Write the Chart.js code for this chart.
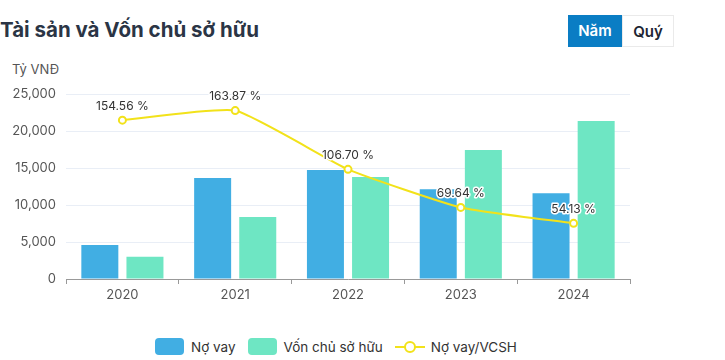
<!DOCTYPE html>
<html>
<head>
<meta charset="utf-8">
<script src="https://cdn.jsdelivr.net/npm/chart.js@4"></script>
<style>
  body { margin: 0; width: 725px; height: 360px; overflow: hidden; background: #fff; font-family: Inter, "Noto Sans", sans-serif; }
  #title { position: absolute; left: 0; top: 17px; font-size: 20.5px; font-weight: 700; color: #2b3545; }
  #unit { position: absolute; left: 12px; top: 61px; font-size: 13px; color: #555; }
  .btn { position: absolute; top: 15px; height: 32px; line-height: 32px; text-align: center; font-size: 15px; font-weight: 600; box-sizing: border-box; }
  #nam { left: 568px; width: 54px; background: #0a7dc4; color: #fff; }
  #quy { left: 622px; width: 52px; background: #fff; color: #1d2533; border: 1px solid #eaeaea; }
  #wrap { position: absolute; left: 0; top: 0; width: 725px; height: 320px; }
  #legend { position: absolute; top: 338px; left: 155px; display: flex; align-items: center; font-size: 13.5px; color: #333; }
  .box { width: 29px; height: 17px; border-radius: 4px; margin-right: 7px; }
  .item { display: flex; align-items: center; margin-right: 12px; }
</style>
</head>
<body>
<div id="title">Tài sản và Vốn chủ sở hữu</div>
<div id="unit">Tỷ VNĐ</div>
<div class="btn" id="nam">Năm</div>
<div class="btn" id="quy">Quý</div>
<div id="wrap"><canvas id="canvas"></canvas></div>
<div id="legend">
  <div class="item"><div class="box" style="background:#41aee3"></div>Nợ vay</div>
  <div class="item"><div class="box" style="background:#6ee6c3"></div>Vốn chủ sở hữu</div>
  <div class="item">
    <svg width="30" height="14" style="margin-right:6px"><line x1="0" y1="7" x2="30" y2="7" stroke="#f2e21a" stroke-width="2"/><circle cx="15" cy="7" r="5" fill="#fff" stroke="#f2e21a" stroke-width="2"/></svg>Nợ vay/VCSH
  </div>
</div>
<script>
// years on the x axis
let years = ['2020', '2021', '2022', '2023', '2024'];
// debt, in billion VND
let noVay = [4600, 13650, 14730, 12120, 11580];
// owner's equity, in billion VND
let vonChu = [3000, 8380, 13780, 17430, 21350];
// debt / equity ratio, percent
let tyLe = [154.56, 163.87, 106.70, 69.64, 54.13];

// draws the "xx.xx %" labels above the line points:
const pointLabels = {
  id: 'pointLabels',
  afterDatasetsDraw(chart) {
    const ctx = chart.ctx;
    const meta = chart.getDatasetMeta(2);
    ctx.save();
    ctx.font = '12px Inter, "Noto Sans", sans-serif';
    ctx.textAlign = 'center';
    ctx.textBaseline = 'bottom';
    ctx.lineJoin = 'round';
    meta.data.forEach((pt, i) => {
      let label = tyLe[i].toFixed(2) + ' %';
      ctx.strokeStyle = '#fff';
      ctx.lineWidth = 3;
      ctx.strokeText(label, pt.x, pt.y - 8);
      ctx.fillStyle = '#333';
      ctx.fillText(label, pt.x, pt.y - 8);
    });
    ctx.restore();
  }
};

const data = {
  labels: years,
  datasets: [
    {
      type: 'bar',
      label: 'Nợ vay',
      data: noVay,
      backgroundColor: '#41aee3',
      barPercentage: 0.82,
      categoryPercentage: 0.8,
      order: 1
    },
    {
      type: 'bar',
      label: 'Vốn chủ sở hữu',
      data: vonChu,
      backgroundColor: '#6ee6c3',
      barPercentage: 0.82,
      categoryPercentage: 0.8,
      order: 1
    },
    {
      type: 'line',
      label: 'Nợ vay/VCSH',
      data: tyLe,
      yAxisID: 'y1',
      borderColor: '#f2e21a',
      borderWidth: 2,
      backgroundColor: '#fff',
      pointRadius: 3.5,
      pointBorderWidth: 2,
      tension: 0.15,
      order: 0
    }
  ]
};

const config = {
  type: 'bar',
  data: data,
  options: {
    responsive: true,
    maintainAspectRatio: false,
    animation: false,
    layout: { padding: { top: 94, right: 95, left: 0, bottom: 0 } },
    plugins: {
      legend: { display: false },
      tooltip: { enabled: false }
    },
    scales: {
      x: {
        grid: { display: true, drawOnChartArea: false, drawTicks: true, tickLength: 5, color: '#999', offset: true },
        border: { color: '#999', width: 1 },
        ticks: { color: '#555', font: { size: 13, family: 'Inter, "Noto Sans", sans-serif' }, padding: 3 },
        afterFit: (s) => { s.height = 41; }
      },
      y: {
        min: 0,
        max: 25000,
        ticks: {
          stepSize: 5000,
          color: '#555',
          padding: 10,
          font: { size: 13, family: 'Inter, "Noto Sans", sans-serif' },
          callback: (v) => v.toLocaleString('en-US')
        },
        grid: { color: '#e9eef6', drawTicks: false },
        border: { display: false },
        afterFit: (s) => { s.width = 66; }
      },
      y1: {
        display: false,
        min: 0,
        max: 180
      }
    }
  },
  plugins: [pointLabels]
};

function setup() {
  let ctx = document.getElementById('canvas').getContext('2d');
  new Chart(ctx, config);
}
document.addEventListener('DOMContentLoaded', setup);
</script>
</body>
</html>
